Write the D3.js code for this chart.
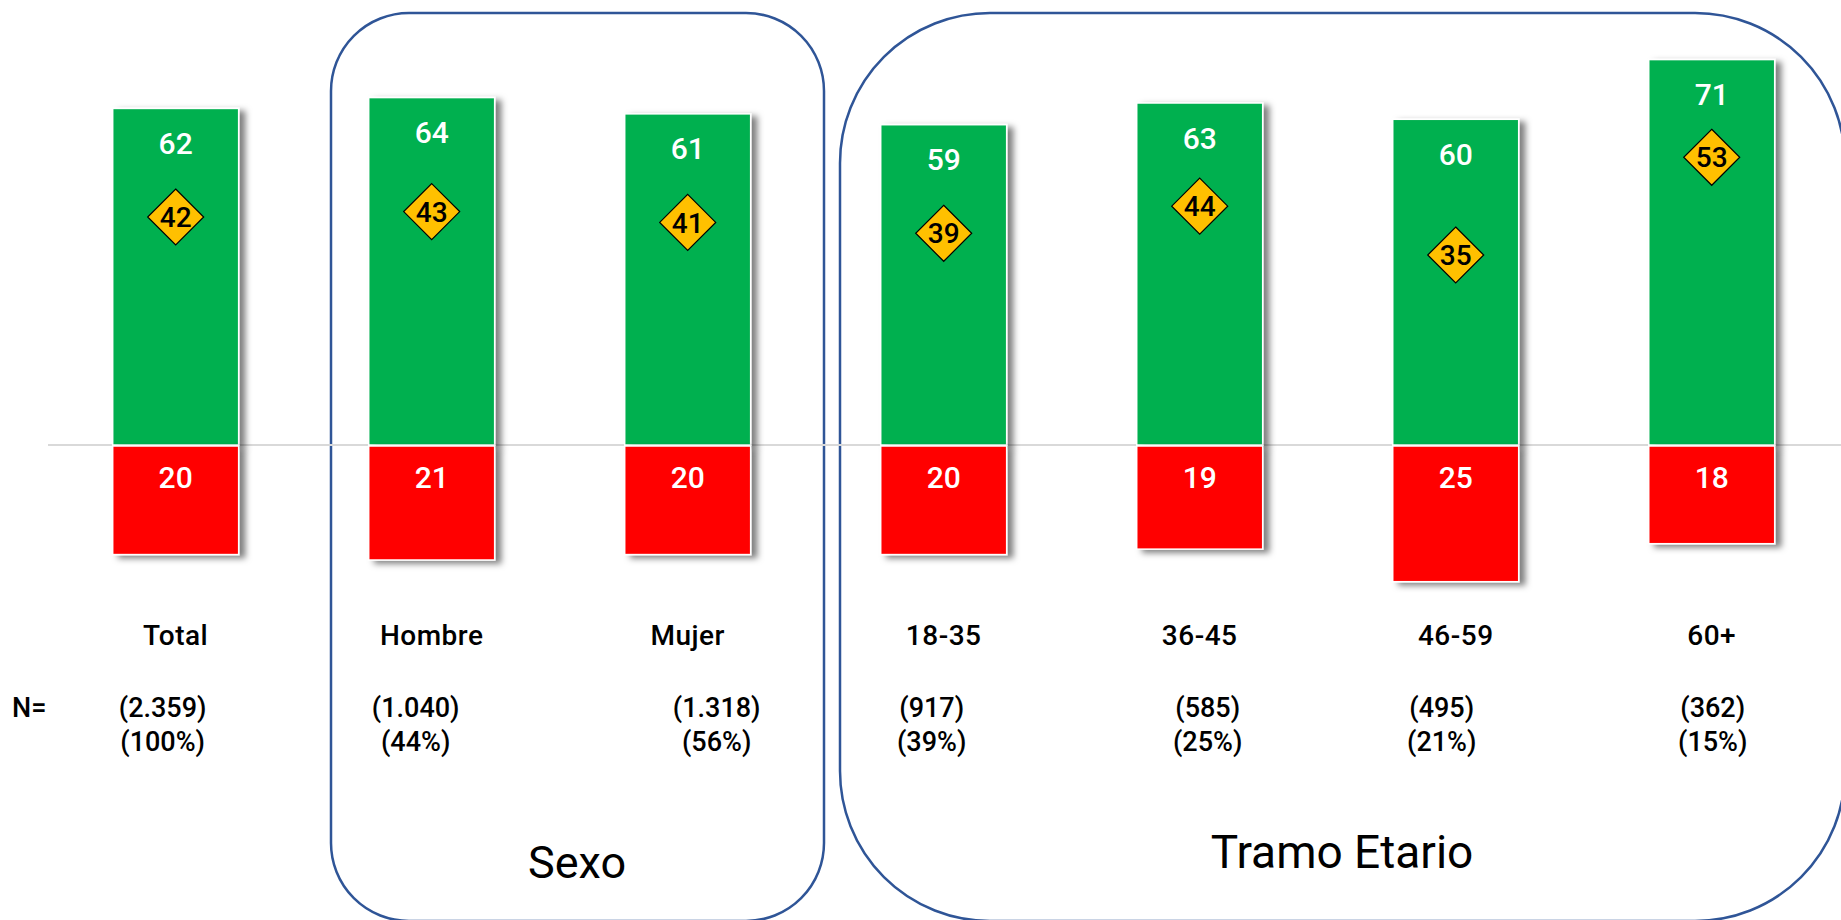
<!DOCTYPE html>
<html>
<head>
<meta charset="utf-8">
<script src="https://cdn.jsdelivr.net/npm/d3@7"></script>
<style>
  html, body { margin: 0; padding: 0; background: #fff; }
  svg { display: block; font-family: Roboto, "Noto Sans", sans-serif; }
</style>
</head>
<body>
<svg id="chart" width="1841" height="920"></svg>
<script>
document.addEventListener("DOMContentLoaded", function() {

const categories = ["Total", "Hombre", "Mujer", "18-35", "36-45", "46-59", "60+"];
const positive = [62, 64, 61, 59, 63, 60, 71];
const negative = [20, 21, 20, 20, 19, 25, 18];
const diamond = [42, 43, 41, 39, 44, 35, 53];
const nCount = ["(2.359)", "(1.040)", "(1.318)", "(917)", "(585)", "(495)", "(362)"];
const nPct = ["(100%)", "(44%)", "(56%)", "(39%)", "(25%)", "(21%)", "(15%)"];

// small nudges so the N labels sit like in the original slide
const nShift = [-13, -16, 29, -12, 8, -14, 1];

const svg = d3.select("#chart");
const baseY = 445;

const x = d3.scaleBand()
  .domain(categories)
  .range([112.7, 112.7 + 6 * 256 + 126])
  .paddingInner(0.508)
  .paddingOuter(0);

const y = d3.scaleLinear()
  .domain([0, 70])
  .range([baseY, baseY - 380]);

const defs = svg.append("defs");
const f = defs.append("filter").attr("id", "shadow")
  .attr("x", "-10%").attr("y", "-10%").attr("width", "130%").attr("height", "130%");
f.append("feDropShadow")
  .attr("dx", 6).attr("dy", 3).attr("stdDeviation", 3)
  .attr("flood-color", "#000").attr("flood-opacity", 0.5);

// group boxes
svg.append("rect")
  .attr("x", 331).attr("y", 13).attr("width", 824 - 331).attr("height", 921 - 13)
  .attr("rx", 78).attr("ry", 78)
  .attr("fill", "none").attr("stroke", "#2F5597").attr("stroke-width", 2.5);
svg.append("rect")
  .attr("x", 840).attr("y", 13).attr("width", 1845 - 840).attr("height", 921 - 13)
  .attr("rx", 150).attr("ry", 150)
  .attr("fill", "none").attr("stroke", "#2F5597").attr("stroke-width", 2.5);

// baseline
svg.append("line")
  .attr("x1", 48).attr("x2", 1841)
  .attr("y1", baseY).attr("y2", baseY)
  .attr("stroke", "#d9d9d9").attr("stroke-width", 2);

const g = svg.selectAll(".cat")
  .data(categories)
  .enter().append("g")
  .attr("class", "cat");

g.append("rect")
  .attr("x", d => x(d))
  .attr("y", (d, i) => y(positive[i]))
  .attr("width", x.bandwidth())
  .attr("height", (d, i) => y(0) - y(positive[i]))
  .attr("fill", "#00B050")
  .attr("stroke", "#fff").attr("stroke-width", 1.5)
  .attr("filter", "url(#shadow)");

g.append("rect")
  .attr("x", d => x(d))
  .attr("y", y(0) + 1)
  .attr("width", x.bandwidth())
  .attr("height", (d, i) => y(0) - y(negative[i]))
  .attr("fill", "#FF0000")
  .attr("stroke", "#fff").attr("stroke-width", 1.5)
  .attr("filter", "url(#shadow)");

g.append("text")
  .attr("x", d => x(d) + x.bandwidth() / 2)
  .attr("y", (d, i) => y(positive[i]) + 35)
  .attr("dy", "0.35em")
  .attr("text-anchor", "middle")
  .attr("fill", "#fff")
  .attr("font-size", 30)
  .attr("font-weight", 500)
  .text((d, i) => positive[i]);

g.append("text")
  .attr("x", d => x(d) + x.bandwidth() / 2)
  .attr("y", baseY + 32)
  .attr("dy", "0.35em")
  .attr("text-anchor", "middle")
  .attr("fill", "#fff")
  .attr("font-size", 30)
  .attr("font-weight", 500)
  .text((d, i) => negative[i]);

// diamonds
const r = 28;
g.append("path")
  .attr("d", (d, i) => {
    const cx = x(d) + x.bandwidth() / 2, cy = y(diamond[i]);
    return `M${cx},${cy - r}L${cx + r},${cy}L${cx},${cy + r}L${cx - r},${cy}Z`;
  })
  .attr("fill", "#FFC000")
  .attr("stroke", "#000").attr("stroke-width", 1.2);

g.append("text")
  .attr("x", d => x(d) + x.bandwidth() / 2)
  .attr("y", (d, i) => y(diamond[i]))
  .attr("dy", "0.36em")
  .attr("text-anchor", "middle")
  .attr("fill", "#000")
  .attr("font-size", 28)
  .attr("font-weight", 500)
  .text((d, i) => diamond[i]);

// category labels
g.append("text")
  .attr("x", d => x(d) + x.bandwidth() / 2)
  .attr("y", 645)
  .attr("text-anchor", "middle")
  .attr("font-size", 28)
  .attr("font-weight", 500)
  .attr("letter-spacing", 0.5)
  .text(d => d);

g.append("text")
  .attr("x", (d, i) => x(d) + x.bandwidth() / 2 + nShift[i])
  .attr("y", 717)
  .attr("text-anchor", "middle")
  .attr("font-size", 27)
  .attr("font-weight", 500)
  .text((d, i) => nCount[i]);

g.append("text")
  .attr("x", (d, i) => x(d) + x.bandwidth() / 2 + nShift[i])
  .attr("y", 751)
  .attr("text-anchor", "middle")
  .attr("font-size", 27)
  .attr("font-weight", 500)
  .text((d, i) => nPct[i]);

svg.append("text")
  .attr("x", 12).attr("y", 717)
  .attr("font-size", 27).attr("font-weight", 500)
  .text("N=");

svg.append("text")
  .attr("x", 577).attr("y", 878)
  .attr("text-anchor", "middle")
  .attr("font-size", 45)
  .text("Sexo");

svg.append("text")
  .attr("x", 1342).attr("y", 868)
  .attr("text-anchor", "middle")
  .attr("font-size", 46)
  .text("Tramo Etario");

});
</script>
</body>
</html>
